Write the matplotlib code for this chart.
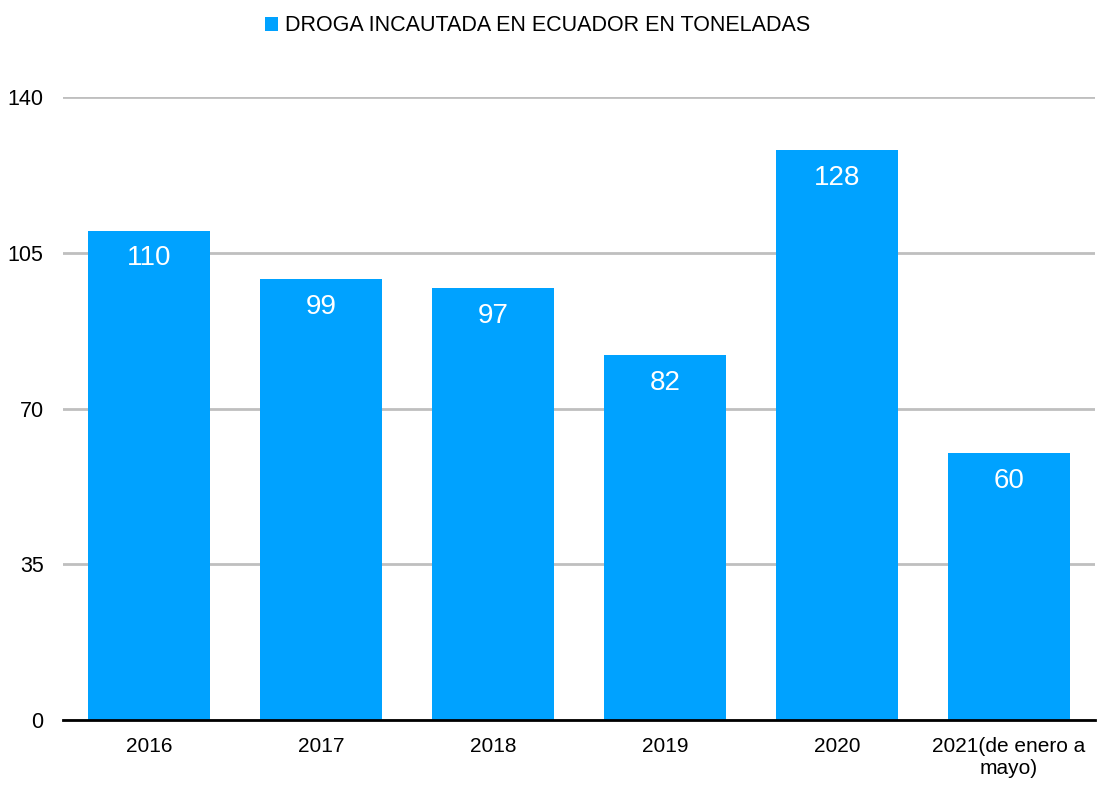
import numpy as np
import matplotlib.pyplot as plt

plt.rcParams['font.family'] = ['Liberation Sans', 'DejaVu Sans']

anios = ["2016", "2017", "2018", "2019", "2020", "2021(de enero a\nmayo)"]
toneladas = [110, 99, 97, 82, 128, 60]
ticks_y = [0, 35, 70, 105, 140]

azul = "#00A2FF"

fig = plt.figure(figsize=(10.97, 7.85), dpi=100)
ax = fig.add_axes([0.0574, 0.0828, 0.9406, 0.7936])

x = np.arange(len(anios))
barras = ax.bar(x, toneladas, width=0.71, color=azul, zorder=3,
                label="DROGA INCAUTADA EN ECUADOR EN TONELADAS")

for b, v in zip(barras, toneladas):
  ax.annotate(str(v), (b.get_x() + b.get_width()/2, v), xytext=(0, -20),
              textcoords="offset points", ha="center", va="center",
              color="white", fontsize=20, zorder=4)

ax.set_xlim(-0.5, len(anios) - 0.5)
ax.set_ylim(0, 140)
ax.set_yticks(ticks_y)
ax.set_xticks(x)
ax.set_xticklabels(anios, fontsize=15, linespacing=1.25)
ax.tick_params(axis='y', labelsize=15.5, length=0, pad=14)
ax.tick_params(axis='x', length=0, pad=12)
ax.grid(axis='y', color="#BFBFBF", linewidth=2, zorder=0)
for s in ["top", "right", "left"]:
  ax.spines[s].set_visible(False)
ax.spines["bottom"].set_linewidth(2)
ax.spines["bottom"].set_zorder(5)

fig.legend(loc="upper center", bbox_to_anchor=(0.49, 1.005), frameon=False,
           fontsize=15.5, handlelength=0.6, handleheight=0.6, handletextpad=0.3)

fig.savefig("out.png", dpi=100)
